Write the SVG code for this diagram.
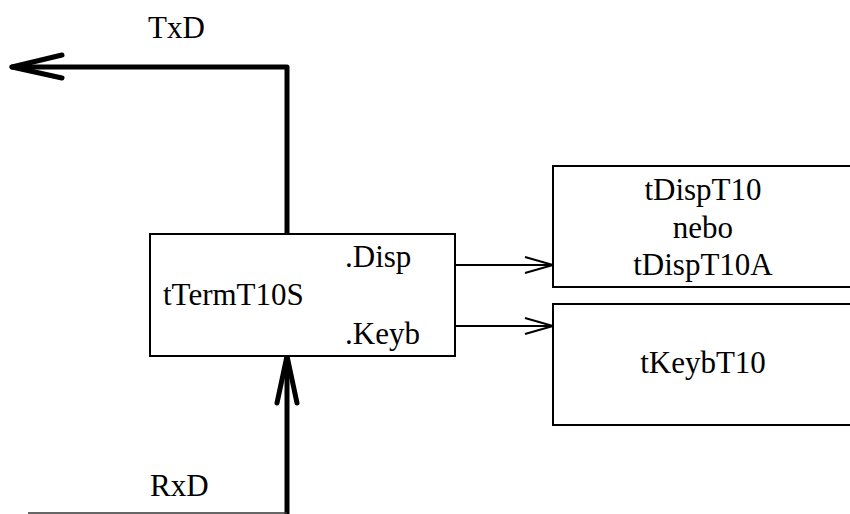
<svg xmlns="http://www.w3.org/2000/svg" width="850" height="514" viewBox="0 0 850 514">
  <style>
    text { font-family: 'Liberation Serif', 'DejaVu Serif', serif; font-size: 31px; fill: #000; }
    .box { fill: #fff; stroke: #000; stroke-width: 2; }
    .bus { fill: none; stroke: #000; stroke-width: 5; stroke-linecap: round; stroke-linejoin: round; }
    .sig { fill: none; stroke: #000; stroke-width: 2; }
  </style>

  <g id="connectors">
    <!-- TxD output bus -->
    <path class="bus" d="M287,234 V67 H12"/>
    <path class="bus" d="M62,55 L12,67 L62,78"/>
    <!-- RxD input bus -->
    <path class="bus" d="M287,514 V356"/>
    <path class="bus" d="M277,403 L287,356 L297,403"/>
    <line x1="28" y1="513" x2="287" y2="513" stroke="#333" stroke-width="1.5"/>
    <!-- Disp link -->
    <line class="sig" x1="430" y1="265" x2="553" y2="265"/>
    <path class="sig" d="M525,257 L553,265 L525,273"/>
    <!-- Keyb link -->
    <line class="sig" x1="430" y1="326" x2="553" y2="326"/>
    <path class="sig" d="M525,318 L553,326 L525,334"/>
  </g>

  <g id="label-txd">
    <text x="148" y="38" font-family="Liberation Serif, serif">TxD</text>
  </g>
  <g id="label-rxd">
    <text x="150" y="496" font-family="Liberation Serif, serif">RxD</text>
  </g>

  <g id="node-term">
    <rect class="box" x="150" y="234" width="305" height="122"/>
    <text x="163" y="305">tTermT10S</text>
    <text x="345" y="267">.Disp</text>
    <text x="345" y="344">.Keyb</text>
  </g>

  <g id="node-disp">
    <rect class="box" x="553" y="166" width="310" height="121"/>
    <text x="703" y="200" text-anchor="middle">tDispT10</text>
    <text x="703" y="238" text-anchor="middle">nebo</text>
    <text x="703" y="275" text-anchor="middle">tDispT10A</text>
  </g>

  <g id="node-keyb">
    <rect class="box" x="553" y="304" width="310" height="121"/>
    <text x="703" y="373" text-anchor="middle">tKeybT10</text>
  </g>
</svg>
